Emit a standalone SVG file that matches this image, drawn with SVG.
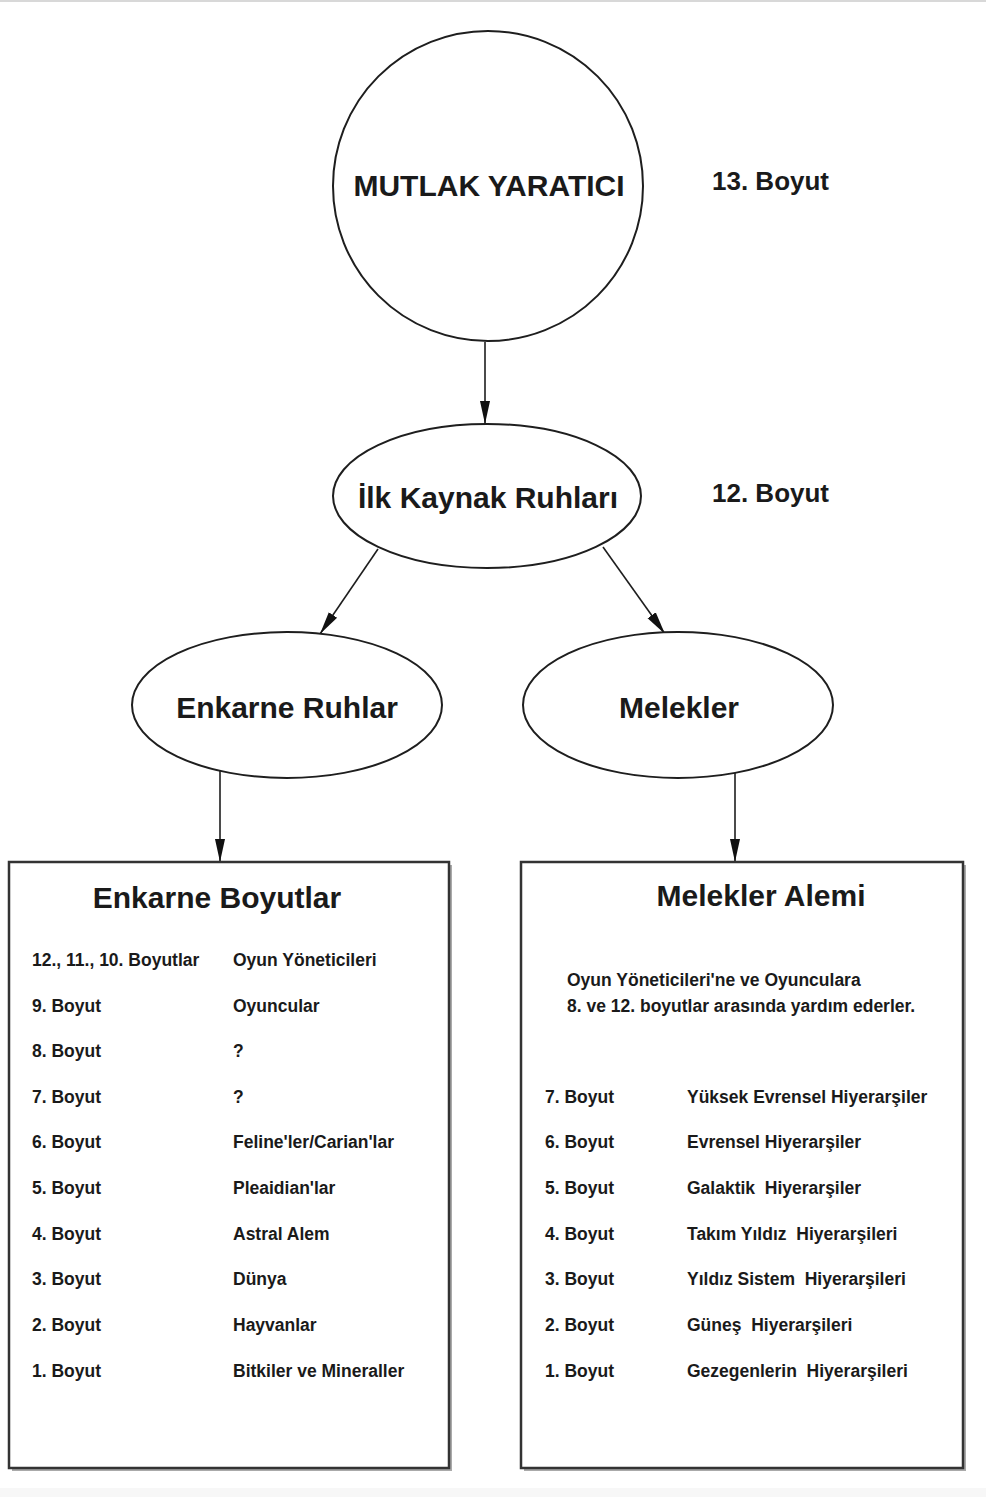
<svg xmlns="http://www.w3.org/2000/svg" width="986" height="1497" viewBox="0 0 986 1497">
<style>
.shape{fill:#fff;stroke:#1e1e1e;stroke-width:2}
.box{fill:#fff;stroke:#333;stroke-width:2.5}
.shadow{fill:none;stroke:#aaa;stroke-width:2}
.conn{stroke:#1e1e1e;stroke-width:1.6;fill:none;marker-end:url(#ah)}
text{font-family:"Liberation Sans",Arial,sans-serif;font-weight:bold;fill:#1a1a1a}
.big{font-size:30px;text-anchor:middle}
.dim{font-size:26px}
.row{font-size:17.5px}
</style>
<defs>
<marker id="ah" markerUnits="userSpaceOnUse" markerWidth="24" markerHeight="12" refX="23" refY="6" orient="auto">
<path d="M0,1 L23,6 L0,11 z" fill="#111"/>
</marker>
</defs>
<rect x="0" y="0" width="986" height="1497" fill="#fff"/>
<rect x="0" y="0" width="986" height="2" fill="#d8d8d8"/>
<rect x="0" y="1488" width="986" height="9" fill="#f7f7f7"/>

<g id="connectors">
<line class="conn" x1="485" y1="342" x2="485" y2="424"/>
<line class="conn" x1="378" y1="549" x2="320" y2="634"/>
<line class="conn" x1="603" y1="547" x2="665" y2="634"/>
<line class="conn" x1="220" y1="757" x2="220" y2="862"/>
<line class="conn" x1="735" y1="757" x2="735" y2="862"/>
</g>

<g id="mutlak">
<circle class="shape" cx="488" cy="186" r="155"/>
<text class="big" x="489" y="196" style="font-size:30px">MUTLAK YARATICI</text>
</g>
<text class="dim" x="712" y="190">13. Boyut</text>

<g id="ilk">
<ellipse class="shape" cx="487" cy="496" rx="154" ry="72"/>
<text class="big" x="488" y="508">İlk Kaynak Ruhları</text>
</g>
<text class="dim" x="712" y="502">12. Boyut</text>

<g id="enkarne-ruhlar">
<ellipse class="shape" cx="287" cy="705" rx="155" ry="73"/>
<text class="big" x="287" y="718">Enkarne Ruhlar</text>
</g>

<g id="melekler">
<ellipse class="shape" cx="678" cy="705" rx="155" ry="73"/>
<text class="big" x="679" y="718">Melekler</text>
</g>

<g id="enkarne-boyutlar">
<polyline class="shadow" points="451,865 451,1470 12,1470"/>
<rect class="box" x="9" y="862" width="440" height="606"/>
<text class="big" x="217" y="908">Enkarne Boyutlar</text>
<text class="row" x="32" y="966">12., 11., 10. Boyutlar</text><text class="row" x="233" y="966">Oyun Yöneticileri</text>
<text class="row" x="32" y="1012">9. Boyut</text><text class="row" x="233" y="1012">Oyuncular</text>
<text class="row" x="32" y="1057">8. Boyut</text><text class="row" x="233" y="1057">?</text>
<text class="row" x="32" y="1103">7. Boyut</text><text class="row" x="233" y="1103">?</text>
<text class="row" x="32" y="1148">6. Boyut</text><text class="row" x="233" y="1148">Feline'ler/Carian'lar</text>
<text class="row" x="32" y="1194">5. Boyut</text><text class="row" x="233" y="1194">Pleaidian'lar</text>
<text class="row" x="32" y="1240">4. Boyut</text><text class="row" x="233" y="1240">Astral Alem</text>
<text class="row" x="32" y="1285">3. Boyut</text><text class="row" x="233" y="1285">Dünya</text>
<text class="row" x="32" y="1331">2. Boyut</text><text class="row" x="233" y="1331">Hayvanlar</text>
<text class="row" x="32" y="1377">1. Boyut</text><text class="row" x="233" y="1377">Bitkiler ve Mineraller</text>
</g>

<g id="melekler-alemi">
<polyline class="shadow" points="965,865 965,1470 524,1470"/>
<rect class="box" x="521" y="862" width="442" height="606"/>
<text class="big" x="761" y="906">Melekler Alemi</text>
<text class="row" x="567" y="986">Oyun Yöneticileri'ne ve Oyunculara</text>
<text class="row" x="567" y="1012">8. ve 12. boyutlar arasında yardım ederler.</text>
<text class="row" x="545" y="1103">7. Boyut</text><text class="row" x="687" y="1103">Yüksek Evrensel Hiyerarşiler</text>
<text class="row" x="545" y="1148">6. Boyut</text><text class="row" x="687" y="1148">Evrensel Hiyerarşiler</text>
<text class="row" x="545" y="1194">5. Boyut</text><text class="row" x="687" y="1194" xml:space="preserve">Galaktik  Hiyerarşiler</text>
<text class="row" x="545" y="1240">4. Boyut</text><text class="row" x="687" y="1240" xml:space="preserve">Takım Yıldız  Hiyerarşileri</text>
<text class="row" x="545" y="1285">3. Boyut</text><text class="row" x="687" y="1285" xml:space="preserve">Yıldız Sistem  Hiyerarşileri</text>
<text class="row" x="545" y="1331">2. Boyut</text><text class="row" x="687" y="1331" xml:space="preserve">Güneş  Hiyerarşileri</text>
<text class="row" x="545" y="1377">1. Boyut</text><text class="row" x="687" y="1377" xml:space="preserve">Gezegenlerin  Hiyerarşileri</text>
</g>
</svg>
